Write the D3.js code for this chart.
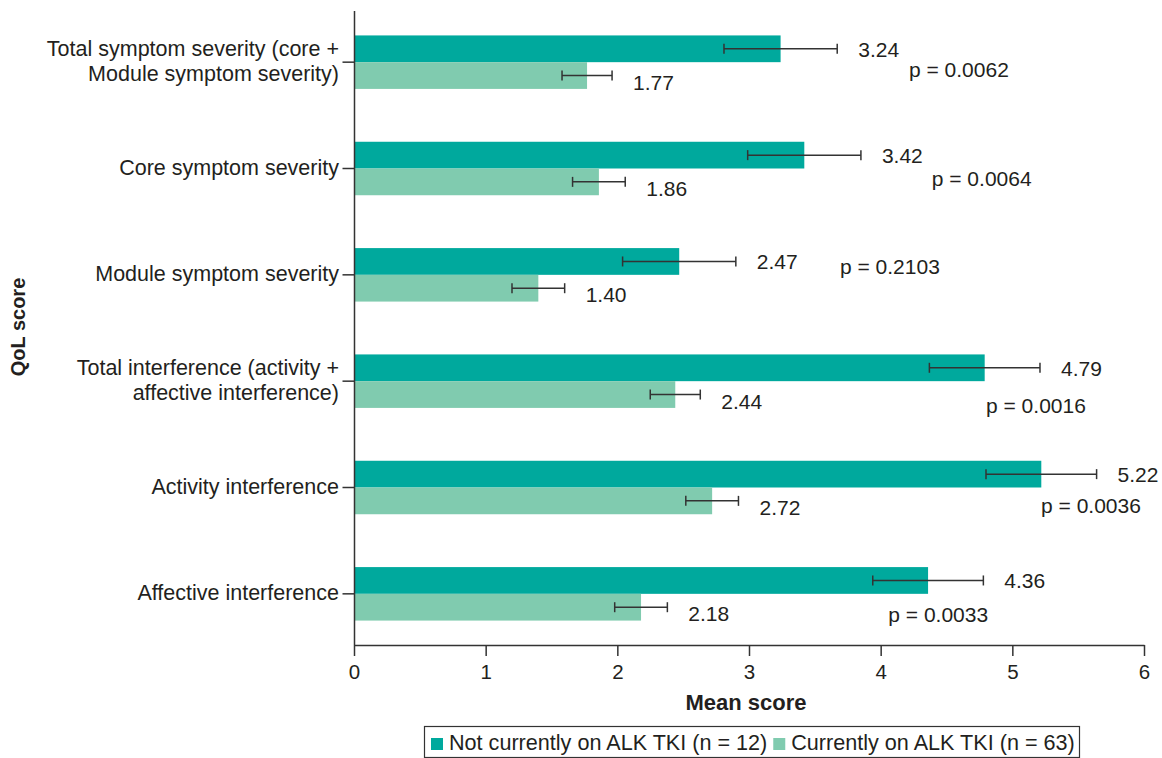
<!DOCTYPE html>
<html><head><meta charset="utf-8">
<script src="https://cdn.jsdelivr.net/npm/d3@7"></script>
<style>
body{margin:0;background:#fff}
text{font-family:"Liberation Sans",Arial,Helvetica,sans-serif;fill:#231f20}
</style>
</head><body>
<svg id="c" width="1162" height="758"></svg>
<script>
// ---- data ----
const categories = [
  "Total symptom severity (core +\nModule symptom severity)",
  "Core symptom severity",
  "Module symptom severity",
  "Total interference (activity +\naffective interference)",
  "Activity interference",
  "Affective interference"
];
const seriesNames = ["Not currently on ALK TKI (n = 12)", "Currently on ALK TKI (n = 63)"];
const notOnMeans = [3.24, 3.42, 2.47, 4.79, 5.22, 4.36];
const notOnErr   = [0.43, 0.43, 0.43, 0.42, 0.42, 0.42];
const onMeans    = [1.77, 1.86, 1.40, 2.44, 2.72, 2.18];
const onErr      = [0.19, 0.20, 0.20, 0.19, 0.20, 0.20];
const pValues    = ["0.0062", "0.0064", "0.2103", "0.0016", "0.0036", "0.0033"];
const xTicks     = [0, 1, 2, 3, 4, 5, 6];

// ---- layout (annotation placement) ----
const pLabelAt = [4.215, 4.388, 3.691, 4.80, 5.218, 4.058]; // x in score units
const pLabelDy = [14.5, 17.5, -0.5, 31.5, 25, 28];          // px from row centre
const colors = ["#00a99d", "#80cbaf"];
const ink = "#333";

const svg = d3.select("#c");
const x = d3.scaleLinear().domain([0, 6]).range([354, 1144]);
const y = d3.scaleBand().domain(d3.range(categories.length))
  .range([9, 647]).paddingInner(0.497).paddingOuter(0.2485);
const sub = d3.scaleBand().domain([0, 1]).range([0, y.bandwidth()]);

const series = [
  {means: notOnMeans, err: notOnErr, labelDy: 8},
  {means: onMeans, err: onErr, labelDy: 14}
];

// bars
series.forEach((s, si) => {
  svg.append("g").selectAll("rect").data(s.means).join("rect")
    .attr("x", x(0))
    .attr("y", (d, i) => y(i) + sub(si))
    .attr("width", d => x(d) - x(0))
    .attr("height", sub.bandwidth())
    .attr("fill", colors[si]);
});

// error bars + value labels
series.forEach((s, si) => {
  const g = svg.append("g");
  s.means.forEach((m, i) => {
    const yc = y(i) + sub(si) + sub.bandwidth() / 2;
    const x1 = x(m - s.err[i]), x2 = x(m + s.err[i]);
    g.append("line").attr("x1", x1).attr("x2", x2).attr("y1", yc).attr("y2", yc)
      .attr("stroke", ink).attr("stroke-width", 1.5);
    [x1, x2].forEach(xx => g.append("line").attr("x1", xx).attr("x2", xx)
      .attr("y1", yc - 5).attr("y2", yc + 5).attr("stroke", ink).attr("stroke-width", 1.5));
    g.append("text").attr("x", x2 + 21).attr("y", yc + s.labelDy)
      .attr("font-size", 21).text(m.toFixed(2));
  });
});

// p-values
svg.append("g").selectAll("text").data(pValues).join("text")
  .attr("x", (d, i) => x(pLabelAt[i]))
  .attr("y", (d, i) => y(i) + y.bandwidth() / 2 + pLabelDy[i])
  .attr("font-size", 21)
  .text(d => "p = " + d);

// x axis
const gx = svg.append("g").attr("transform", "translate(0,645)")
  .call(d3.axisBottom(x).tickValues(xTicks).tickFormat(d3.format("d"))
    .tickSize(11).tickSizeOuter(0).tickPadding(8));
gx.select(".domain").attr("stroke", ink).attr("stroke-width", 1.5);
gx.selectAll(".tick line").attr("stroke", ink).attr("stroke-width", 1.5);
gx.selectAll(".tick text").attr("font-size", 20.5).attr("font-family", null).attr("fill", "#231f20");

// y axis
const gy = svg.append("g").attr("transform", "translate(354.5,0)")
  .call(d3.axisLeft(y).tickSize(12).tickFormat(""));
gy.select(".domain").remove();
gy.selectAll(".tick line").attr("stroke", ink).attr("stroke-width", 1.5);
svg.append("line").attr("x1", 354.5).attr("x2", 354.5).attr("y1", 11).attr("y2", 645)
  .attr("stroke", ink).attr("stroke-width", 1.5);

// category labels
categories.forEach((c, i) => {
  const lines = c.split("\n");
  const yc = y(i) + y.bandwidth() / 2;
  const t = svg.append("text").attr("text-anchor", "end").attr("font-size", 21.5);
  lines.forEach((l, k) => {
    t.append("tspan").attr("x", 339)
      .attr("y", yc + 6 + (k - (lines.length - 1) / 2) * 25.3).text(l);
  });
});

// axis titles
svg.append("text").attr("x", 746).attr("y", 710).attr("text-anchor", "middle")
  .attr("font-size", 22).attr("font-weight", "bold").text("Mean score");
svg.append("text").attr("transform", "translate(25,327) rotate(-90)")
  .attr("text-anchor", "middle").attr("font-size", 20).attr("font-weight", "bold").text("QoL score");

// legend
svg.append("rect").attr("x", 424.5).attr("y", 726.5).attr("width", 655).attr("height", 31)
  .attr("fill", "none").attr("stroke", ink).attr("stroke-width", 1.2);
let lx = 431;
seriesNames.forEach((n, si) => {
  svg.append("rect").attr("x", lx).attr("y", 738).attr("width", 12).attr("height", 12)
    .attr("fill", colors[si]);
  const t = svg.append("text").attr("x", lx + 18).attr("y", 749.5).attr("font-size", 21.6).text(n);
  lx = lx + 18 + t.node().getComputedTextLength() + 6;
});
</script>
</body></html>
